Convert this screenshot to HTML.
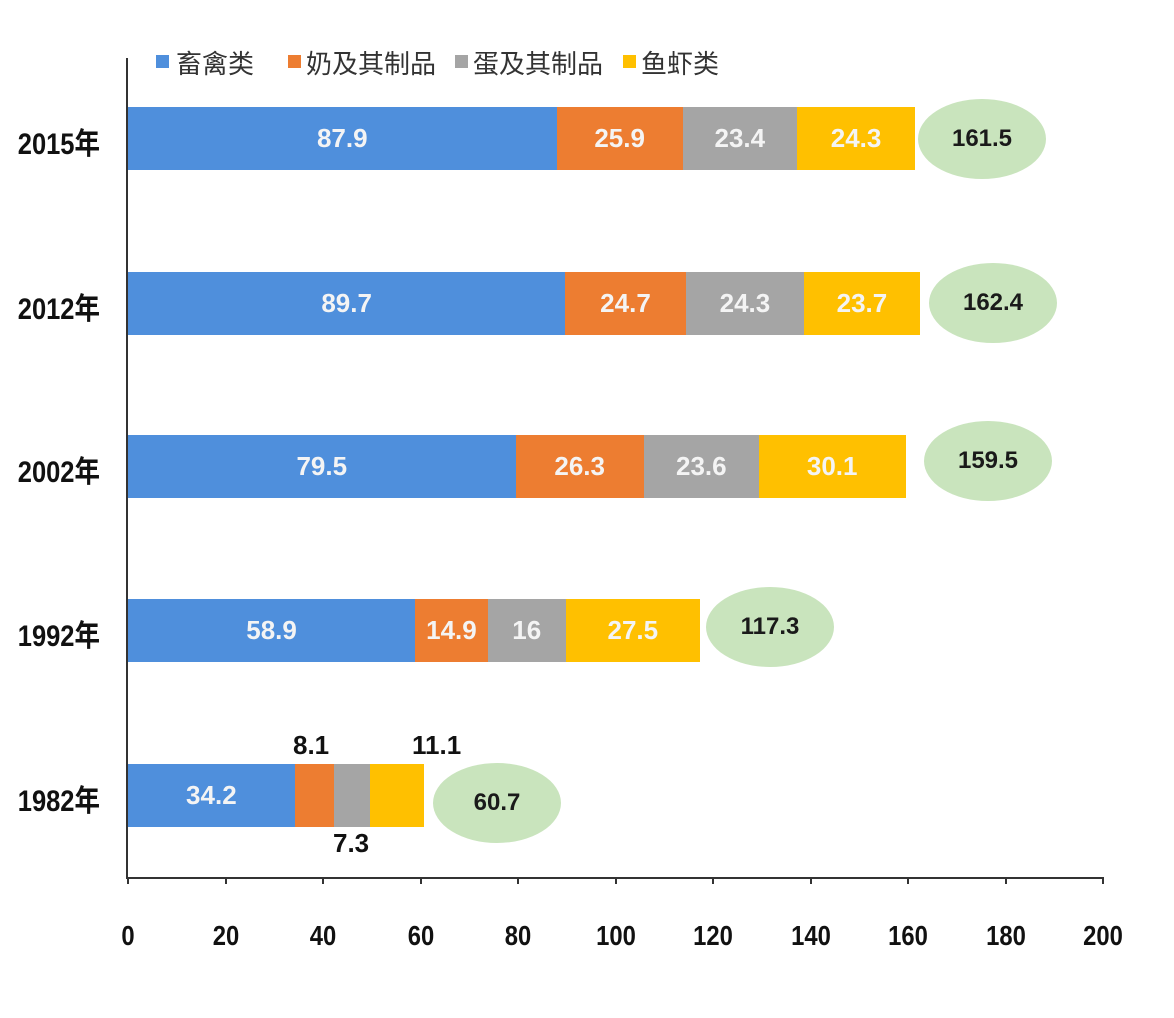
<!DOCTYPE html>
<html><head><meta charset="utf-8"><style>
body{margin:0;background:#fff;}
#c{position:relative;width:1174px;height:1018px;overflow:hidden;background:#fff;font-family:"Liberation Sans","Noto Sans CJK SC",sans-serif;font-weight:bold;}
.a{position:absolute;}
.seg{position:absolute;height:63px;display:flex;align-items:center;justify-content:center;color:#f4f4f4;font-size:26px;}
.yr{position:absolute;left:0;width:100px;text-align:right;font-size:30px;color:#111;transform:scaleX(0.85);transform-origin:right center;}
.el{position:absolute;background:#c9e4bd;border-radius:50%;display:flex;align-items:center;justify-content:center;font-size:24px;color:#1a1a1a;}
.tk{position:absolute;top:920px;width:80px;text-align:center;font-size:28px;color:#111;transform:scaleX(0.85);}
.lg{position:absolute;top:44px;font-size:26px;color:#333;font-weight:normal;}
.sq{position:absolute;top:55px;width:13px;height:13px;}
</style></head><body><div id="c">
<div class="a" style="left:126px;top:58px;width:2px;height:821px;background:#333"></div>
<div class="a" style="left:126px;top:877px;width:978px;height:2px;background:#333"></div>

<div class="sq" style="left:156px;background:#4f8fdc"></div><div class="lg" style="left:176px">畜禽类</div>
<div class="sq" style="left:288px;background:#ed7d31"></div><div class="lg" style="left:306px">奶及其制品</div>
<div class="sq" style="left:455px;background:#a5a5a5"></div><div class="lg" style="left:473px">蛋及其制品</div>
<div class="sq" style="left:623px;background:#ffc000"></div><div class="lg" style="left:641px">鱼虾类</div>

<div id="bars"></div>
<script>
var s=4.875,x0=128;
var d=[["2015年",107,[87.9,25.9,23.4,24.3],"161.5",982,139],["2012年",272,[89.7,24.7,24.3,23.7],"162.4",993,303],["2002年",435,[79.5,26.3,23.6,30.1],"159.5",988,461],["1992年",599,[58.9,14.9,16,27.5],"117.3",770,627],["1982年",764,[34.2,8.1,7.3,11.1],"60.7",497,803]];
var col=["#4f8fdc","#ed7d31","#a5a5a5","#ffc000"];
var h="";
d.forEach(function(r,i){
 var x=x0;h+='<div class="yr" style="top:'+(r[1]+12)+'px">'+r[0]+'</div>';
 r[2].forEach(function(v,j){var w=v*s;h+='<div class="seg" style="left:'+x+'px;top:'+r[1]+'px;width:'+w+'px;background:'+col[j]+'">'+(i==4&&j>0?'':v)+'</div>';x+=w;});
 h+='<div class="el" style="left:'+(r[4]-64)+'px;top:'+(r[5]-40)+'px;width:128px;height:80px">'+r[3]+'</div>';
});
h+='<div class="a" style="left:293px;top:730px;font-size:26px;color:#111">8.1</div>';
h+='<div class="a" style="left:412px;top:730px;font-size:26px;color:#111">11.1</div>';
h+='<div class="a" style="left:333px;top:828px;font-size:26px;color:#111">7.3</div>';
for(var k=0;k<=10;k++){var xx=x0+k*20*s;h+='<div class="a" style="left:'+(xx-1)+'px;top:877px;width:2px;height:7px;background:#333"></div><div class="tk" style="left:'+(xx-40)+'px">'+(k*20)+'</div>';}
document.getElementById('bars').innerHTML=h;
</script>
</div></body></html>
